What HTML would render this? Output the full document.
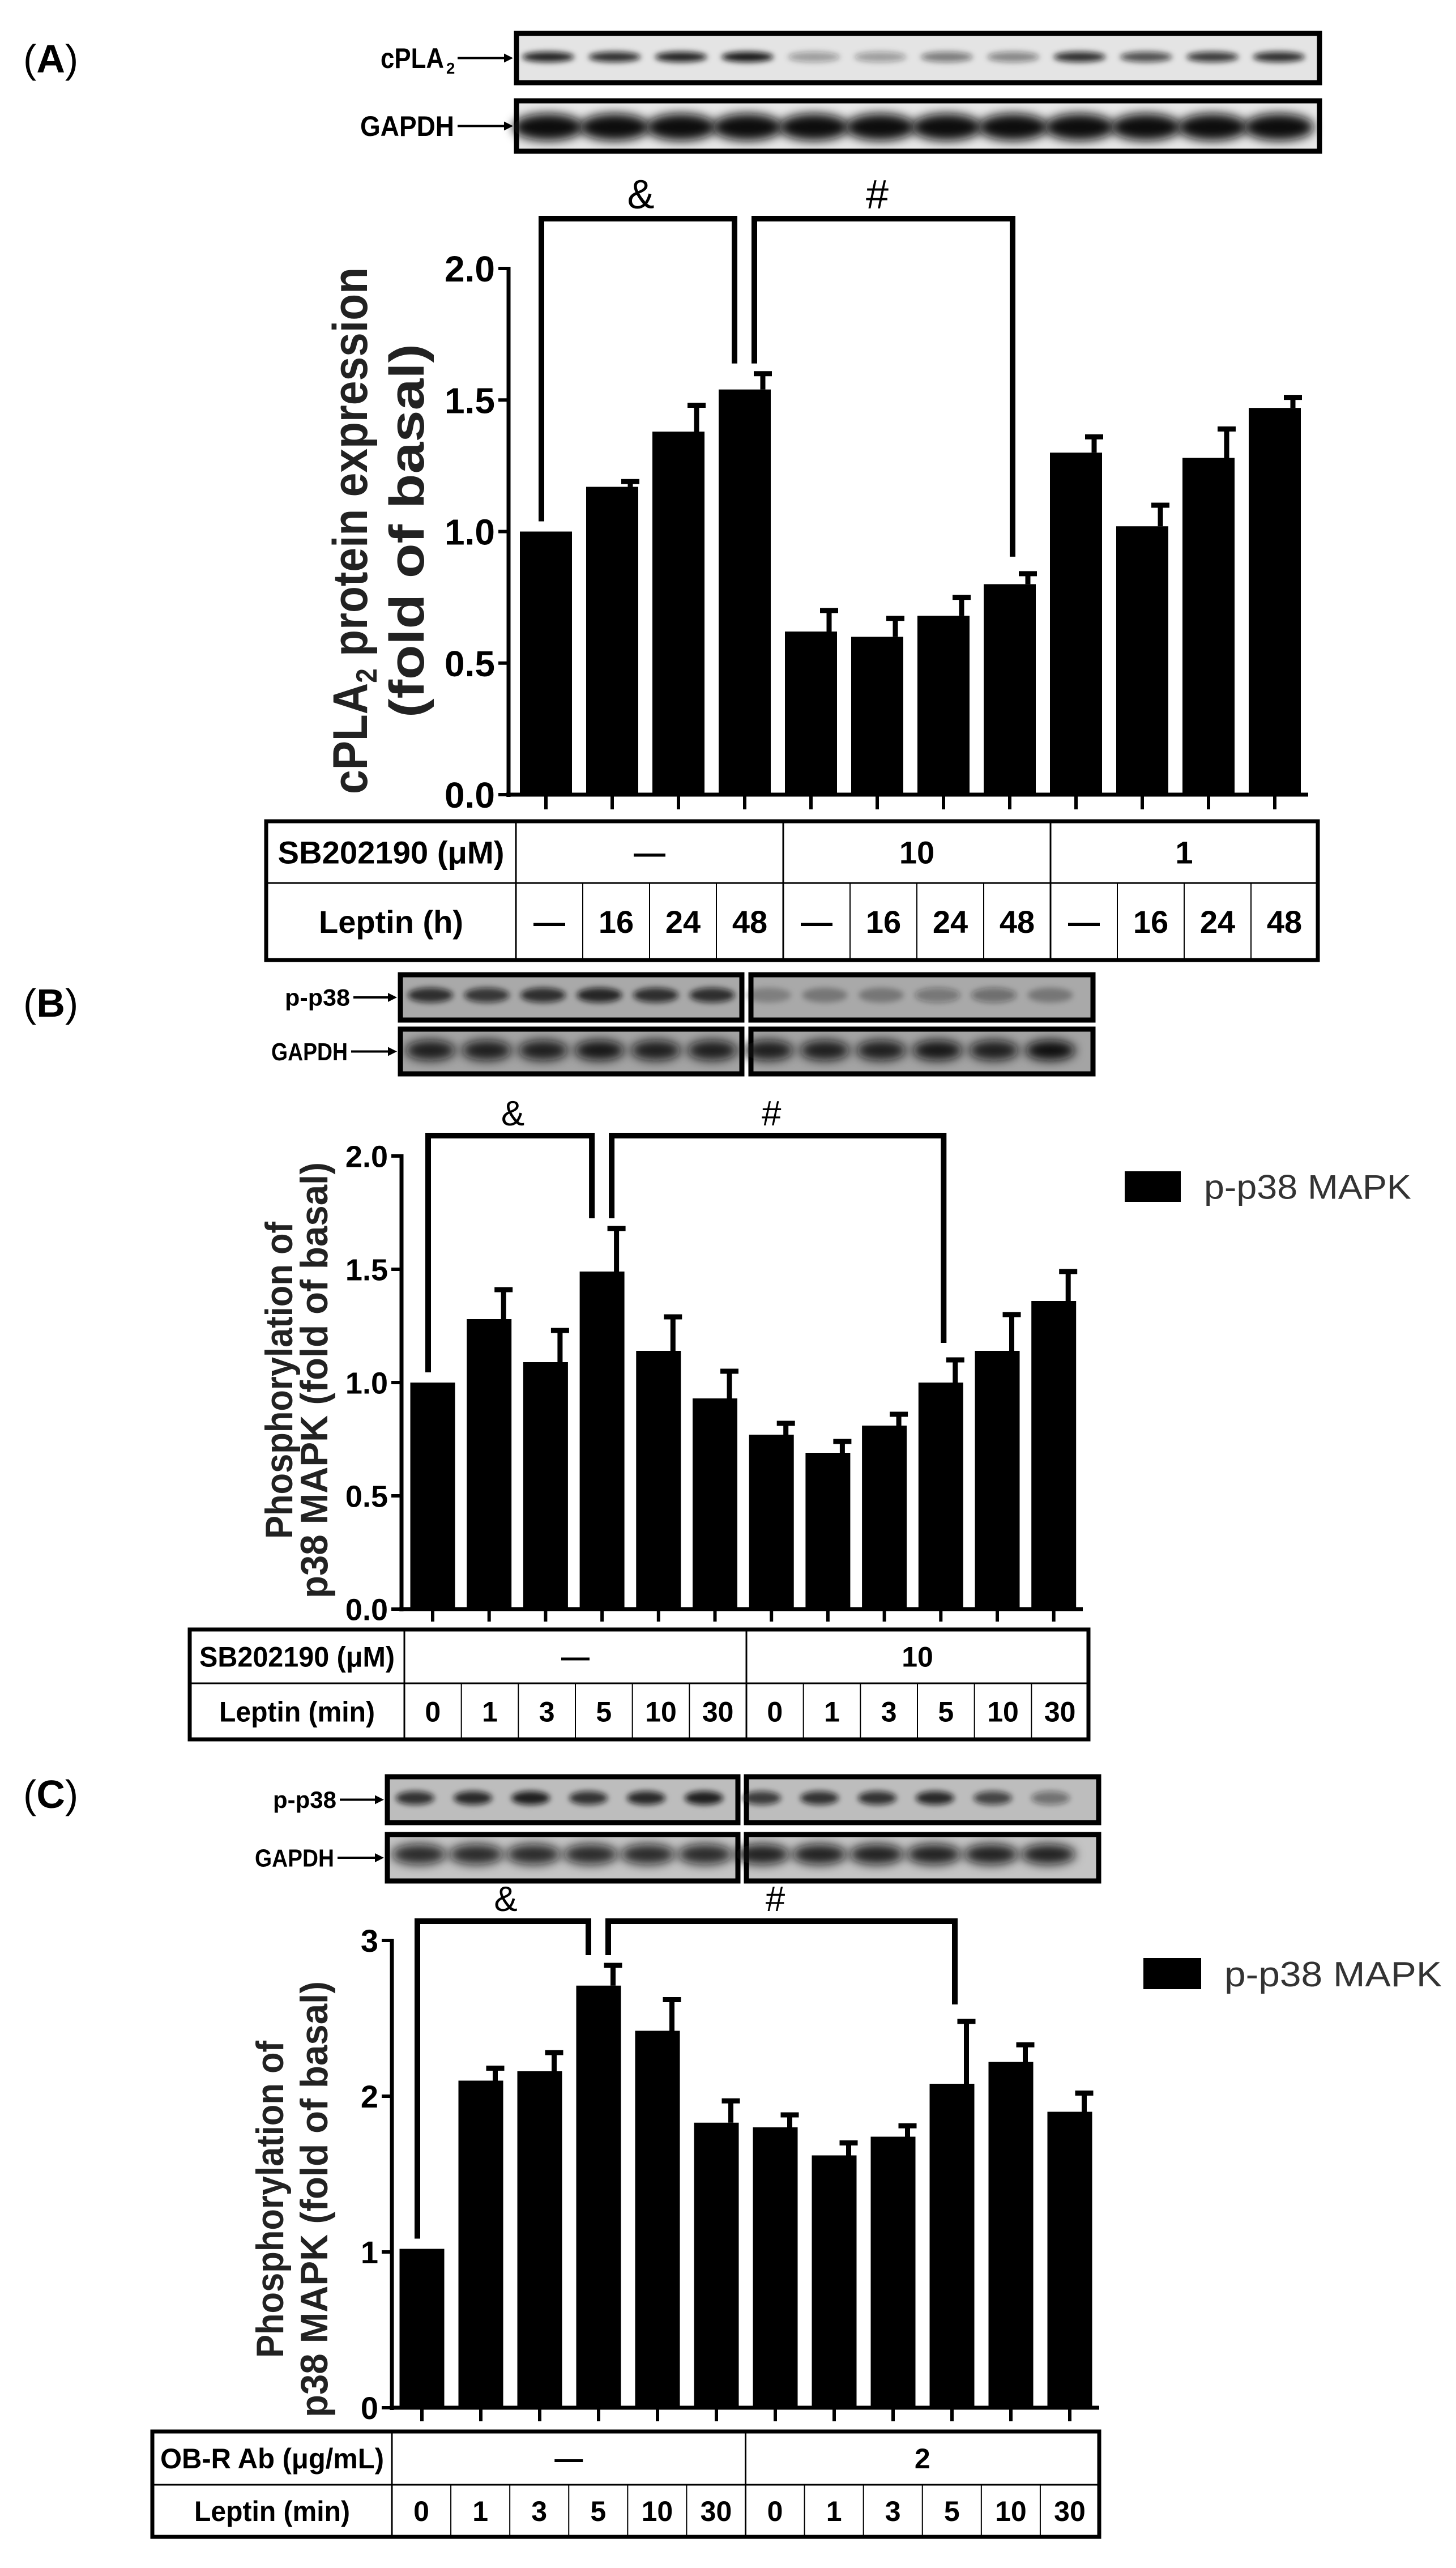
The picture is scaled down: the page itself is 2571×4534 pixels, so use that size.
<!DOCTYPE html>
<html><head><meta charset="utf-8"><style>
html,body{margin:0;padding:0;background:#fff;}
svg{display:block;}
text{font-family:"Liberation Sans",sans-serif;}
</style></head><body>
<svg id="fig" width="2571" height="4534" viewBox="0 0 2571 4534" xmlns="http://www.w3.org/2000/svg">
<defs>
<filter id="blur6" x="-30%" y="-80%" width="160%" height="260%"><feGaussianBlur stdDeviation="5"/></filter>
<filter id="blur10" x="-30%" y="-80%" width="160%" height="260%"><feGaussianBlur stdDeviation="9"/></filter>
</defs>
<g id="root"></g>
</svg>
<script>
// ---- Panel A data ----
const catsA = ["—","16","24","48","—","16","24","48","—","16","24","48"];
const valsA = [1.00,1.17,1.38,1.54,0.62,0.60,0.68,0.80,1.30,1.02,1.28,1.47];
const errsA = [0.00,0.02,0.10,0.06,0.08,0.07,0.07,0.04,0.06,0.08,0.11,0.04];
const ticksA = [0.0,0.5,1.0,1.5,2.0];
const tickLabelsA = ["0.0","0.5","1.0","1.5","2.0"];
const groupsA = ["—","10","1"];
const bandA = [0.9,0.85,0.9,0.95,0.35,0.35,0.5,0.45,0.85,0.7,0.8,0.85];
// ---- Panel B data ----
const catsB = ["0","1","3","5","10","30","0","1","3","5","10","30"];
const valsB = [1.00,1.28,1.09,1.49,1.14,0.93,0.77,0.69,0.81,1.00,1.14,1.36];
const errsB = [0.00,0.13,0.14,0.19,0.15,0.12,0.05,0.05,0.05,0.10,0.16,0.13];
const ticksB = [0.0,0.5,1.0,1.5,2.0];
const tickLabelsB = ["0.0","0.5","1.0","1.5","2.0"];
const groupsB = ["—","10"];
const bandB = [0.8,0.75,0.8,0.85,0.8,0.8,0.25,0.3,0.3,0.35,0.4,0.3];
// ---- Panel C data ----
const catsC = ["0","1","3","5","10","30","0","1","3","5","10","30"];
const valsC = [1.02,2.10,2.16,2.71,2.42,1.83,1.80,1.62,1.74,2.08,2.22,1.90];
const errsC = [0.00,0.08,0.12,0.13,0.20,0.14,0.08,0.08,0.07,0.40,0.11,0.12];
const ticksC = [0,1,2,3];
const tickLabelsC = ["0","1","2","3"];
const groupsC = ["—","2"];
const bandC = [0.8,0.85,0.9,0.8,0.85,0.9,0.75,0.8,0.8,0.85,0.7,0.45];

const NS="http://www.w3.org/2000/svg";
const root=document.getElementById('root');
function mk(tag,attrs,parent){const e=document.createElementNS(NS,tag);for(const k in attrs)e.setAttribute(k,attrs[k]);(parent||root).appendChild(e);return e;}
function txt(s,attrs,parent){const e=mk('text',attrs,parent);e.textContent=s;return e;}

function panel(cfg){
  const g=mk('g',{});
  
  
  const L=txt('',{x:41,y:cfg.letterY,'font-size':cfg.letterSize,'font-family':'Liberation Serif, serif'},g);
  
  
  const t1=document.createElementNS(NS,'tspan');t1.textContent='(';L.appendChild(t1);
  const t2=document.createElementNS(NS,'tspan');t2.setAttribute('font-weight','bold');t2.textContent=cfg.letter;L.appendChild(t2);
  const t3=document.createElementNS(NS,'tspan');t3.textContent=')';L.appendChild(t3);
  cfg.blots.forEach(b=>{
    const bg=mk('g',{},g);
    
    
    b.boxes.forEach(bx=>{
      mk('rect',{x:bx[0]+4,y:b.y0+4,width:bx[1]-bx[0]-8,height:b.y1-b.y0-8,fill:b.bg,stroke:'#000','stroke-width':9},bg);
    });
    const n=b.bands.length;
    for(let i=0;i<n;i++){
      const bi=b.bands[i];
      const cx=b.cx0+i*b.dx;
      const cy=(b.y0+b.y1)/2+(b.dy||0);
      const band=mk('ellipse',{cx:cx,cy:cy,rx:b.rx,ry:b.ry,fill:'#111','fill-opacity':bi,filter:b.thick?'url(#blur10)':'url(#blur6)'},bg);
      
      
    }
    const lab=txt(b.label,{x:b.labelX,y:(b.y0+b.y1)/2+b.labelSize*0.35,'font-size':b.labelSize,'font-weight':'bold','text-anchor':'end',textLength:b.labelW,lengthAdjust:'spacingAndGlyphs'},bg);
    
    
    if(b.sub){txt(b.sub,{x:b.labelX+4,y:(b.y0+b.y1)/2+b.labelSize*0.55,'font-size':b.labelSize*0.55,'font-weight':'bold'},bg);}
    const ay=(b.y0+b.y1)/2;
    mk('line',{x1:b.labelX+(b.sub?24:6),y1:ay,x2:b.boxes[0][0]-12,y2:ay,stroke:'#000','stroke-width':4},bg);
    mk('polygon',{points:`${b.boxes[0][0]-2},${ay} ${b.boxes[0][0]-18},${ay-8} ${b.boxes[0][0]-18},${ay+8}`,fill:'#000'},bg);
  });
  const yScale=v=>cfg.y0+(cfg.yTop-cfg.y0)*(v/cfg.vmax);
  const xScale=i=>cfg.cx0+i*cfg.dx;
  const ax=mk('g',{},g);
  
  
  mk('line',{x1:cfg.axisX,y1:yScale(cfg.vmax)-3,x2:cfg.axisX,y2:cfg.y0+4,stroke:'#000','stroke-width':7},ax);
  cfg.ticks.forEach((t,i)=>{
    const y=yScale(t);
    mk('line',{x1:cfg.axisX-18,y1:y,x2:cfg.axisX,y2:y,stroke:'#000','stroke-width':6},ax);
    const tl=txt(cfg.tickLabels[i],{x:cfg.axisX-24,y:y+cfg.tickSize*0.36,'font-size':cfg.tickSize,'font-weight':'bold','text-anchor':'end'},ax);
    
    
  });
  const xa=mk('line',{x1:cfg.axisX-4,y1:cfg.y0,x2:cfg.axisEnd,y2:cfg.y0,stroke:'#000','stroke-width':7},g);
  
  
  cfg.vals.forEach((v,i)=>{
    const x=xScale(i), top=yScale(v);
    const r=mk('rect',{x:x-cfg.bw/2,y:top,width:cfg.bw,height:cfg.y0-top,fill:'#000'},g);
    
    
    if(cfg.errs[i]>0){
      const ey=yScale(v+cfg.errs[i]);
      const e=mk('path',{d:`M${x+cfg.bw/2-14},${top} L${x+cfg.bw/2-14},${ey} M${x+cfg.bw/2-30},${ey} L${x+cfg.bw/2+2},${ey}`,stroke:'#000','stroke-width':9,fill:'none'},g);
      
      
    }
    mk('line',{x1:x,y1:cfg.y0,x2:x,y2:cfg.y0+cfg.tickLen,stroke:'#000','stroke-width':6},g);
  });
  const top=cfg.bracketY;
  const hi=i=>yScale(cfg.vals[i]+cfg.errs[i]);
  const b1=mk('path',{d:`M${xScale(0)-8},${hi(0)-18} L${xScale(0)-8},${top} L${xScale(3)-18},${top} L${xScale(3)-18},${hi(3)-18}`,stroke:'#000','stroke-width':10,fill:'none'},g);
  
  
  const j=cfg.hashEnd;
  const b2=mk('path',{d:`M${xScale(3)+17},${hi(3)-18} L${xScale(3)+17},${top} L${xScale(j)+5},${top} L${xScale(j)+5},${hi(j)-30}`,stroke:'#000','stroke-width':10,fill:'none'},g);
  
  
  const s1=txt('&',{x:(xScale(0)+xScale(3))/2-8,y:top-18,'font-size':cfg.symSize,'text-anchor':'middle'},g);
  
  
  const s2=txt('#',{x:(xScale(3)+xScale(j))/2,y:top-18,'font-size':cfg.symSize,'text-anchor':'middle'},g);
  
  
  const tg=mk('g',{},g);
  
  
  cfg.title.forEach((line,k)=>{
    const x=cfg.titleX[k];
    const t=txt('',{x:0,y:0,transform:`translate(${x},${cfg.titleCY}) rotate(-90)`,'font-size':cfg.titleSize,'font-weight':'bold','text-anchor':'middle',textLength:cfg.titleLen[k],lengthAdjust:'spacingAndGlyphs',fill:'#222'},tg);
    if(Array.isArray(line)){
      line.forEach(seg=>{const ts=document.createElementNS(NS,'tspan');ts.textContent=seg[0];if(seg[1]){ts.setAttribute('font-size',cfg.titleSize*0.6);ts.setAttribute('dy',cfg.titleSize*0.2);}if(seg[2])ts.setAttribute('dy',-cfg.titleSize*0.2);t.appendChild(ts);});
    } else t.textContent=line;
  });
  if(cfg.legend){
    const lg=mk('g',{},g);
    
    
    mk('rect',{x:cfg.legend.x,y:cfg.legend.y,width:cfg.legend.w,height:cfg.legend.h,fill:'#000'},lg);
    txt('p-p38 MAPK',{x:cfg.legend.tx,y:cfg.legend.y+cfg.legend.h*0.5+cfg.legend.fs*0.36,'font-size':cfg.legend.fs,fill:'#333',textLength:cfg.legend.tw,lengthAdjust:'spacingAndGlyphs'},lg);
  }
  const T=cfg.table;
  const tb=mk('g',{},g);
  
  
  mk('rect',{x:T.x0,y:T.y0,width:T.x1-T.x0,height:T.y2-T.y0,fill:'none',stroke:'#000','stroke-width':7},tb);
  mk('line',{x1:T.x0,y1:T.y1,x2:T.x1,y2:T.y1,stroke:'#000','stroke-width':3},tb);
  mk('line',{x1:T.c0,y1:T.y0,x2:T.c0,y2:T.y2,stroke:'#000','stroke-width':3},tb);
  const gw=(T.x1-T.c0)/cfg.groups.length, sw=(T.x1-T.c0)/cfg.cats.length;
  cfg.groups.forEach((gl,k)=>{
    if(k>0) mk('line',{x1:T.c0+k*gw,y1:T.y0,x2:T.c0+k*gw,y2:T.y2,stroke:'#000','stroke-width':3},tb);
    const t=txt(gl,{x:T.c0+(k+0.5)*gw,y:(T.y0+T.y1)/2+T.fs*0.36,'font-size':T.fs,'font-weight':'bold','text-anchor':'middle'},tb);
    
    
  });
  cfg.cats.forEach((c,i)=>{
    if(i>0 && i%(cfg.cats.length/cfg.groups.length)!==0) mk('line',{x1:T.c0+i*sw,y1:T.y1,x2:T.c0+i*sw,y2:T.y2,stroke:'#000','stroke-width':2},tb);
    const t=txt(c,{x:T.c0+(i+0.5)*sw,y:(T.y1+T.y2)/2+T.fs*0.36,'font-size':T.fs,'font-weight':'bold','text-anchor':'middle'},tb);
    
    
  });
  const r1=txt(T.row1,{x:(T.x0+T.c0)/2,y:(T.y0+T.y1)/2+T.fs*0.36,'font-size':T.fs,'font-weight':'bold','text-anchor':'middle',textLength:T.l1w,lengthAdjust:'spacingAndGlyphs'},tb);
  
  
  const r2=txt(T.row2,{x:(T.x0+T.c0)/2,y:(T.y1+T.y2)/2+T.fs*0.36,'font-size':T.fs,'font-weight':'bold','text-anchor':'middle',textLength:T.l2w,lengthAdjust:'spacingAndGlyphs'},tb);
  
  
}

panel({name:'panel-a',letter:'A',letterY:128,letterSize:70,
  blots:[
    {name:'blot-cpla2',label:'cPLA',sub:'2',labelX:784,labelW:112,labelSize:50,y0:55,y1:150,boxes:[[908,2334]],bg:'#e4e4e4',bands:bandA,cx0:968,dx:117.3,rx:46,ry:9,dy:-2},
    {name:'blot-gapdh-a',label:'GAPDH',labelX:802,labelW:166,labelSize:50,y0:174,y1:271,boxes:[[908,2334]],bg:'#e8e8e8',bands:[1,1,1,1,1,1,1,1,1,1,1,1],cx0:968,dx:117.3,rx:62,ry:24,thick:true,dy:2}
  ],
  vals:valsA,errs:errsA,cats:catsA,groups:groupsA,ticks:ticksA,tickLabels:tickLabelsA,
  axisX:898,axisEnd:2310,y0:1403,yTop:474,vmax:2.0,cx0:964,dx:117,bw:92,tickLen:26,tickSize:64,
  bracketY:386,hashEnd:7,symSize:72,
  title:[[['cPLA'],['2',1],[' protein expression',0,1]],'(fold of basal)'],titleX:[648,748],titleCY:937,titleSize:86,titleLen:[930,660],
  table:{x0:470,x1:2327,y0:1450,y1:1559,y2:1695,c0:911,fs:56,row1:'SB202190 (μM)',row2:'Leptin (h)',l1w:400,l2w:255}
});

panel({name:'panel-b',letter:'B',letterY:1795,letterSize:70,
  blots:[
    {name:'blot-p-p38-b',label:'p-p38',labelX:618,labelW:115,labelSize:42,y0:1717,y1:1805,boxes:[[703,1314],[1322,1934]],bg:'#a9a9a9',bands:bandB,cx0:760,dx:99.5,rx:40,ry:13,dy:-4},
    {name:'blot-gapdh-b',label:'GAPDH',labelX:614,labelW:135,labelSize:44,y0:1813,y1:1900,boxes:[[703,1314],[1322,1934]],bg:'#a4a4a4',bands:[0.9,0.9,0.9,0.95,0.9,0.9,0.9,0.9,0.9,0.95,0.9,1],cx0:760,dx:99.5,rx:44,ry:18,thick:true,dy:-2}
  ],
  vals:valsB,errs:errsB,cats:catsB,groups:groupsB,ticks:ticksB,tickLabels:tickLabelsB,
  axisX:709,axisEnd:1912,y0:2841,yTop:2041,vmax:2.0,cx0:764,dx:99.7,bw:79,tickLen:22,tickSize:54,
  bracketY:2005,hashEnd:9,symSize:62,
  title:['Phosphorylation of','p38 MAPK (fold of basal)'],titleX:[516,578],titleCY:2437,titleSize:68,titleLen:[560,770],
  legend:{x:1986,y:2068,w:99,h:54,tx:2126,tw:366,fs:60},
  table:{x0:335,x1:1922,y0:2877,y1:2972,y2:3071,c0:714,fs:50,row1:'SB202190 (μM)',row2:'Leptin (min)',l1w:345,l2w:275}
});

panel({name:'panel-c',letter:'C',letterY:3192,letterSize:70,
  blots:[
    {name:'blot-p-p38-c',label:'p-p38',labelX:594,labelW:112,labelSize:42,y0:3133,y1:3222,boxes:[[680,1307],[1314,1944]],bg:'#bdbdbd',bands:bandC,cx0:733,dx:102,rx:34,ry:12,dy:-3},
    {name:'blot-gapdh-c',label:'GAPDH',labelX:590,labelW:140,labelSize:44,y0:3235,y1:3325,boxes:[[680,1307],[1314,1944]],bg:'#c4c4c4',bands:[0.85,0.85,0.85,0.85,0.85,0.85,0.9,0.9,0.9,0.9,0.9,0.9],cx0:740,dx:101,rx:48,ry:18,thick:true,dy:-6}
  ],
  vals:valsC,errs:errsC,cats:catsC,groups:groupsC,ticks:ticksC,tickLabels:tickLabelsC,
  axisX:692,axisEnd:1941,y0:4251,yTop:3426,vmax:3,cx0:745,dx:104,bw:79,tickLen:24,tickSize:56,
  bracketY:3392,hashEnd:9,symSize:62,
  title:['Phosphorylation of','p38 MAPK (fold of basal)'],titleX:[500,578],titleCY:3883,titleSize:68,titleLen:[560,770],
  legend:{x:2019,y:3457,w:102,h:55,tx:2162,tw:384,fs:62},
  table:{x0:269,x1:1941,y0:4293,y1:4387,y2:4479,c0:692,fs:50,row1:'OB-R Ab (μg/mL)',row2:'Leptin (min)',l1w:395,l2w:275}
});
</script>
</body></html>
